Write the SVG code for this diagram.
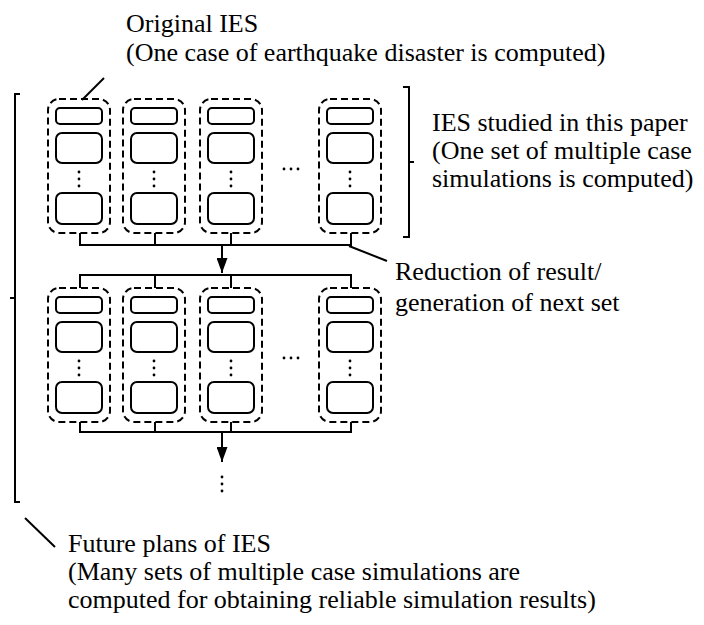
<svg xmlns="http://www.w3.org/2000/svg" width="704" height="625" viewBox="0 0 704 625">
<style>
.c{fill:none;stroke:#000;stroke-width:2;stroke-dasharray:7 4}
.b{fill:#fff;stroke:#000;stroke-width:2}
.l{fill:none;stroke:#000;stroke-width:2}
.t{font-family:"Liberation Serif","Times New Roman",serif;font-size:26px;fill:#000}
.d{fill:#000}
</style>
<defs>
<marker id="ah" markerWidth="15" markerHeight="11" refX="15" refY="5.5" orient="auto" markerUnits="userSpaceOnUse" viewBox="0 0 15 11">
<path d="M0,0 L15,5.5 L0,11 Z" fill="#000"/>
</marker>
<g id="unitTop">
<rect class="c" x="0" y="0" width="62" height="134" rx="11"/>
<rect class="b" x="8" y="9" width="46" height="16" rx="4"/>
<rect class="b" x="8" y="34" width="46" height="30" rx="6"/>
<rect class="b" x="8" y="94" width="46" height="31" rx="6"/>
<circle class="d" cx="31" cy="73" r="1.4"/>
<circle class="d" cx="31" cy="80" r="1.4"/>
<circle class="d" cx="31" cy="87" r="1.4"/>
</g>
</defs>

<g id="set1">
<use id="n1" href="#unitTop" x="48" y="99"/>
<use id="n2" href="#unitTop" x="123" y="99"/>
<use id="n3" href="#unitTop" x="200" y="99"/>
<use id="n4" href="#unitTop" x="319" y="99"/>
<g id="e1"><circle class="d" cx="284" cy="169" r="1.4"/><circle class="d" cx="291" cy="169" r="1.4"/><circle class="d" cx="298" cy="169" r="1.4"/></g>
</g>

<g id="set2">
<use id="n5" href="#unitTop" x="48" y="288"/>
<use id="n6" href="#unitTop" x="123" y="288"/>
<use id="n7" href="#unitTop" x="200" y="288"/>
<use id="n8" href="#unitTop" x="319" y="288"/>
<g id="e2"><circle class="d" cx="284" cy="358" r="1.4"/><circle class="d" cx="291" cy="358" r="1.4"/><circle class="d" cx="298" cy="358" r="1.4"/></g>
</g>

<g id="connectors">
<path class="l" d="M80,233 V245 H351 V233 M155,233 V245 M231,233 V245"/>
<path class="l" d="M222,245 V273" marker-end="url(#ah)"/>
<path class="l" d="M80,288 V275 H351 V288 M155,275 V288 M231,275 V288"/>
<path class="l" d="M80,422 V432 H351 V422 M155,422 V432 M231,422 V432"/>
<path class="l" d="M222,432 V462" marker-end="url(#ah)"/>
<circle class="d" cx="222" cy="477" r="1.4"/>
<circle class="d" cx="222" cy="484" r="1.4"/>
<circle class="d" cx="222" cy="491" r="1.4"/>
<path class="l" d="M82,100 L104,78"/>
<path class="l" d="M349,246 L387,261"/>
<path class="l" d="M25,518 L55,547"/>
</g>

<g id="brackets">
<path class="l" d="M20,94 H15 V502 H20 M15,298 H10"/>
<path class="l" d="M403,87 H409 V237 H403 M409,162 H414"/>
</g>

<g id="labels">
<text class="t" x="126" y="32">Original IES</text>
<text class="t" x="126" y="61">(One case of earthquake disaster is computed)</text>
<text class="t" x="432" y="131">IES studied in this paper</text>
<text class="t" x="432" y="159">(One set of multiple case</text>
<text class="t" x="432" y="187">simulations is computed)</text>
<text class="t" x="395" y="280">Reduction of result/</text>
<text class="t" x="395" y="311">generation of next set</text>
<text class="t" x="68" y="552">Future plans of IES</text>
<text class="t" x="68" y="580">(Many sets of multiple case simulations are</text>
<text class="t" x="68" y="608">computed for obtaining reliable simulation results)</text>
</g>
</svg>
